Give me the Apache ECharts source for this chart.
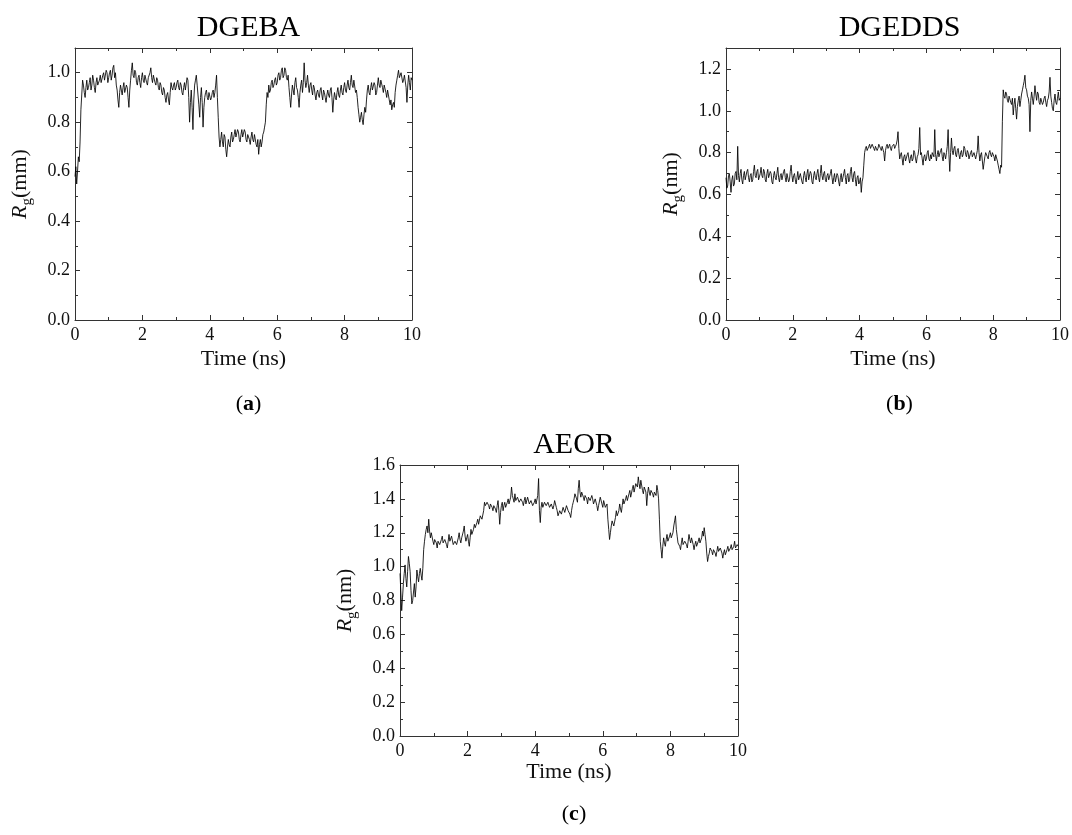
<!DOCTYPE html>
<html><head><meta charset="utf-8">
<script src="https://cdn.jsdelivr.net/npm/echarts@6/dist/echarts.min.js"></script>
<style>html,body{margin:0;padding:0;background:#fff}#c{width:1072px;height:835px}</style>
</head><body><div id="c"></div>
<script>
// sampling grid of the trajectories (ns)
const timeStep = 0.025;
const xTickLabels = ['0', '2', '4', '6', '8', '10'];
const titles = ['DGEBA', 'DGEDDS', 'AEOR'];
const panelLetters = ['a', 'b', 'c'];
const yUnits = ['mm', 'nm', 'nm'];
const yMaxes = [1.1, 1.3, 1.6];

const dgebaRg = [
0.58,0.62,0.55,0.60,0.66,0.64,0.72,0.85,0.91,0.97,0.95,0.92,0.90,0.94,0.97,0.93,0.94,0.96,0.98,0.93,
0.95,0.99,0.97,0.94,0.92,0.96,0.98,0.95,0.95,0.97,0.99,0.96,0.96,0.99,1.00,0.97,0.97,1.01,1.00,0.96,
0.98,1.00,1.01,0.97,0.99,1.02,1.03,0.98,1.00,0.95,0.93,0.89,0.86,0.92,0.95,0.93,0.91,0.94,0.96,0.92,
0.92,0.95,0.94,0.90,0.86,0.93,0.97,1.01,1.04,0.99,0.98,1.01,1.00,0.96,0.95,0.98,0.99,0.96,0.94,0.98,
1.00,0.97,0.96,0.99,0.99,0.96,0.95,0.98,0.98,1.00,1.02,0.98,0.96,0.99,0.99,0.96,0.95,0.98,0.97,0.94,
0.93,0.96,0.95,0.92,0.91,0.94,0.93,0.90,0.88,0.91,0.92,0.89,0.87,0.92,0.96,0.94,0.93,0.95,0.96,0.93,
0.94,0.96,0.97,0.94,0.93,0.96,0.95,0.92,0.91,0.94,0.96,0.93,0.93,0.98,0.97,0.90,0.80,0.88,0.93,0.86,
0.77,0.89,0.95,0.97,0.99,0.95,0.91,0.87,0.82,0.90,0.94,0.88,0.78,0.86,0.90,0.92,0.93,0.90,0.89,0.92,
0.92,0.89,0.90,0.92,0.93,0.90,0.92,0.95,0.99,0.90,0.82,0.74,0.70,0.73,0.76,0.72,0.70,0.75,0.74,0.69,
0.66,0.70,0.73,0.71,0.70,0.74,0.76,0.72,0.73,0.75,0.77,0.74,0.74,0.77,0.76,0.73,0.72,0.75,0.77,0.74,
0.74,0.77,0.76,0.73,0.72,0.75,0.75,0.73,0.71,0.74,0.76,0.73,0.72,0.75,0.75,0.71,0.70,0.73,0.67,0.71,
0.73,0.70,0.72,0.75,0.76,0.78,0.80,0.87,0.92,0.90,0.95,0.92,0.93,0.96,0.97,0.94,0.95,0.97,0.98,0.95,
0.96,0.99,1.00,0.97,0.98,1.01,1.02,0.98,0.99,1.02,1.01,0.98,0.97,0.99,0.94,0.90,0.86,0.91,0.95,0.93,
0.91,0.96,0.98,0.94,0.93,0.90,0.86,0.92,0.95,0.97,0.92,0.96,1.04,0.97,0.94,0.96,0.99,0.95,0.92,0.95,
0.96,0.93,0.91,0.95,0.94,0.91,0.89,0.92,0.93,0.91,0.90,0.93,0.94,0.91,0.89,0.93,0.92,0.90,0.88,0.91,
0.93,0.91,0.90,0.93,0.94,0.90,0.84,0.89,0.92,0.90,0.89,0.92,0.94,0.91,0.90,0.93,0.95,0.92,0.91,0.94,
0.96,0.93,0.92,0.95,0.97,0.94,0.93,0.96,0.99,0.95,0.94,0.97,0.97,0.92,0.93,0.90,0.86,0.83,0.80,0.82,
0.84,0.81,0.79,0.83,0.86,0.84,0.89,0.93,0.95,0.92,0.91,0.94,0.96,0.93,0.93,0.96,0.95,0.91,0.92,0.95,
0.98,0.95,0.94,0.97,0.97,0.94,0.92,0.95,0.95,0.92,0.90,0.93,0.93,0.89,0.87,0.89,0.85,0.87,0.88,0.86,
0.92,0.95,0.97,0.99,1.01,0.98,0.98,1.00,1.00,0.96,0.97,0.99,0.99,0.94,0.88,0.95,0.99,0.96,0.93,0.98,
0.97];

const dgeddsRg = [
0.68,0.63,0.64,0.69,0.70,0.66,0.61,0.67,0.69,0.64,0.65,0.70,0.71,0.67,0.83,0.69,0.66,0.70,0.72,0.67,
0.65,0.69,0.71,0.67,0.67,0.71,0.72,0.68,0.66,0.69,0.70,0.66,0.67,0.71,0.74,0.69,0.68,0.71,0.72,0.67,
0.67,0.70,0.73,0.69,0.68,0.72,0.71,0.67,0.66,0.70,0.72,0.68,0.68,0.71,0.70,0.66,0.65,0.69,0.71,0.68,
0.67,0.70,0.73,0.68,0.66,0.69,0.70,0.67,0.67,0.71,0.72,0.68,0.66,0.70,0.70,0.66,0.67,0.71,0.74,0.69,
0.66,0.69,0.70,0.67,0.65,0.68,0.71,0.67,0.67,0.70,0.70,0.66,0.65,0.69,0.71,0.68,0.66,0.70,0.72,0.67,
0.67,0.71,0.70,0.66,0.65,0.69,0.71,0.68,0.67,0.70,0.72,0.68,0.66,0.70,0.74,0.69,0.67,0.70,0.71,0.67,
0.66,0.69,0.70,0.67,0.67,0.70,0.72,0.68,0.65,0.68,0.70,0.66,0.66,0.70,0.69,0.66,0.64,0.68,0.70,0.66,
0.66,0.70,0.72,0.68,0.65,0.69,0.70,0.66,0.67,0.71,0.73,0.68,0.66,0.70,0.71,0.67,0.64,0.68,0.69,0.65,
0.66,0.68,0.61,0.66,0.68,0.74,0.80,0.82,0.83,0.81,0.81,0.83,0.84,0.82,0.82,0.84,0.84,0.82,0.81,0.83,
0.83,0.81,0.82,0.84,0.84,0.82,0.81,0.83,0.83,0.80,0.76,0.81,0.83,0.84,0.82,0.83,0.84,0.82,0.81,0.83,
0.83,0.84,0.82,0.83,0.84,0.86,0.90,0.82,0.77,0.79,0.80,0.77,0.74,0.78,0.79,0.76,0.76,0.79,0.80,0.77,
0.75,0.78,0.79,0.76,0.77,0.81,0.80,0.77,0.75,0.78,0.79,0.82,0.92,0.79,0.80,0.77,0.74,0.78,0.79,0.76,
0.77,0.80,0.81,0.77,0.76,0.79,0.77,0.80,0.80,0.78,0.91,0.79,0.76,0.79,0.81,0.78,0.78,0.81,0.82,0.78,
0.76,0.80,0.79,0.77,0.80,0.83,0.91,0.79,0.71,0.80,0.87,0.81,0.79,0.82,0.83,0.79,0.78,0.81,0.82,0.79,
0.77,0.80,0.81,0.78,0.79,0.83,0.82,0.79,0.78,0.81,0.80,0.77,0.77,0.80,0.81,0.78,0.78,0.80,0.80,0.77,
0.79,0.81,0.88,0.80,0.76,0.79,0.80,0.76,0.72,0.75,0.78,0.80,0.80,0.78,0.77,0.80,0.81,0.79,0.78,0.80,
0.80,0.78,0.76,0.79,0.79,0.76,0.74,0.72,0.70,0.74,0.73,0.95,1.10,1.07,1.06,1.09,1.08,1.05,1.04,1.07,
1.07,1.04,1.03,1.06,0.98,1.03,1.06,1.01,0.96,1.02,1.05,1.07,1.02,1.05,1.08,1.10,1.12,1.14,1.17,1.11,
1.10,1.07,1.06,1.03,0.90,1.05,1.09,1.06,1.03,1.07,1.12,1.08,1.05,1.09,1.08,1.04,1.03,1.06,1.06,1.03,
1.04,1.06,1.07,1.04,1.02,1.05,1.06,1.09,1.16,1.07,1.04,1.01,1.00,1.05,1.08,1.04,1.03,1.06,1.09,1.05,
1.06];

const aeorRg = [
0.96,0.85,0.74,0.82,0.90,0.96,1.01,0.93,0.88,0.97,1.06,1.02,0.97,0.86,0.78,0.80,0.85,0.90,0.82,0.88,
0.98,0.94,0.91,0.96,0.99,0.95,0.92,0.99,1.10,1.15,1.19,1.22,1.24,1.20,1.28,1.21,1.17,1.20,1.19,1.15,
1.13,1.16,1.17,1.14,1.11,1.15,1.16,1.13,1.12,1.16,1.18,1.14,1.13,1.16,1.17,1.13,1.11,1.15,1.19,1.15,
1.14,1.18,1.17,1.13,1.12,1.15,1.16,1.13,1.13,1.17,1.20,1.16,1.14,1.17,1.18,1.21,1.24,1.18,1.15,1.17,
1.19,1.15,1.12,1.17,1.22,1.19,1.18,1.22,1.25,1.23,1.22,1.26,1.28,1.25,1.26,1.30,1.31,1.28,1.29,1.33,
1.38,1.36,1.35,1.38,1.39,1.36,1.34,1.37,1.38,1.35,1.33,1.36,1.37,1.34,1.32,1.36,1.39,1.33,1.25,1.32,
1.36,1.38,1.33,1.36,1.38,1.35,1.35,1.38,1.40,1.37,1.36,1.41,1.47,1.42,1.40,1.38,1.43,1.39,1.38,1.41,
1.41,1.38,1.37,1.40,1.40,1.38,1.36,1.39,1.41,1.37,1.38,1.41,1.40,1.37,1.36,1.39,1.39,1.36,1.35,1.38,
1.40,1.37,1.36,1.42,1.52,1.33,1.26,1.35,1.38,1.35,1.34,1.38,1.39,1.36,1.35,1.38,1.38,1.35,1.34,1.37,
1.37,1.34,1.36,1.39,1.38,1.35,1.33,1.30,1.31,1.33,1.34,1.31,1.32,1.35,1.35,1.32,1.33,1.36,1.36,1.33,
1.34,1.31,1.29,1.33,1.36,1.38,1.40,1.43,1.44,1.40,1.38,1.46,1.51,1.44,1.41,1.44,1.45,1.41,1.39,1.42,
1.43,1.40,1.37,1.41,1.42,1.39,1.38,1.42,1.40,1.37,1.36,1.40,1.39,1.36,1.33,1.36,1.37,1.41,1.40,1.37,
1.35,1.39,1.38,1.35,1.34,1.37,1.28,1.22,1.16,1.20,1.24,1.27,1.28,1.24,1.25,1.29,1.33,1.30,1.29,1.33,
1.37,1.34,1.32,1.36,1.40,1.37,1.36,1.40,1.42,1.39,1.40,1.43,1.45,1.41,1.42,1.46,1.48,1.44,1.45,1.49,
1.50,1.47,1.53,1.49,1.46,1.51,1.50,1.45,1.43,1.47,1.48,1.44,1.36,1.43,1.47,1.44,1.42,1.45,1.46,1.43,
1.41,1.44,1.45,1.42,1.48,1.45,1.40,1.28,1.15,1.10,1.05,1.12,1.17,1.14,1.12,1.16,1.19,1.15,1.15,1.18,
1.20,1.17,1.16,1.20,1.24,1.27,1.30,1.22,1.18,1.14,1.15,1.12,1.10,1.14,1.17,1.13,1.12,1.15,1.16,1.13,
1.11,1.15,1.19,1.16,1.14,1.17,1.17,1.13,1.10,1.13,1.15,1.12,1.12,1.15,1.17,1.14,1.13,1.17,1.21,1.18,
1.23,1.19,1.15,1.08,1.03,1.06,1.08,1.11,1.12,1.09,1.07,1.10,1.11,1.08,1.06,1.09,1.12,1.09,1.08,1.11,
1.11,1.08,1.05,1.08,1.10,1.07,1.07,1.10,1.12,1.09,1.08,1.11,1.13,1.10,1.09,1.12,1.15,1.11,1.10,1.13,
1.12];

const seriesValues = [dgebaRg, dgeddsRg, aeorRg];

const FONT = "'Liberation Serif', 'DejaVu Serif', serif";
const AX = '#333';
const grids = [
  {left: 75, top: 48, width: 337, height: 272},
  {left: 726, top: 48, width: 337, height: 272},
  {left: 400, top: 465, width: 338, height: 271}
];
const xNameGaps = [28, 28, 25];
const panelLabelOffsets = [68, 68, 62];

const xAxes = [], yAxes = [], series = [], titleArr = [];
grids.forEach((g, k) => {
  const base = {gridIndex: k, type: 'value', min: 0, max: 10, interval: 2,
    axisLine: {show: true, onZero: false, lineStyle: {color: AX, width: 1}},
    splitLine: {show: false},
    axisTick: {show: true, inside: true, length: 5, lineStyle: {color: AX}},
    minorTick: {show: true, splitNumber: 2, length: 3, lineStyle: {color: AX}}};
  xAxes.push(Object.assign({}, base, {position: 'bottom',
    axisLabel: {show: true, margin: 6, fontFamily: FONT, fontSize: 18, color: '#111',
      formatter: v => xTickLabels[Math.round(v / 2)] ?? ''},
    name: 'Time (ns)', nameLocation: 'middle', nameGap: xNameGaps[k],
    nameTextStyle: {fontFamily: FONT, fontSize: 22, color: '#111'}}));
  xAxes.push(Object.assign({}, base, {position: 'top', axisLabel: {show: false}}));

  const ymax = yMaxes[k];
  const yMajor = {gridIndex: k, type: 'value', min: 0, max: ymax, interval: 0.2,
    axisLine: {show: true, onZero: false, lineStyle: {color: AX, width: 1}},
    splitLine: {show: false},
    axisTick: {show: true, inside: true, length: 5, lineStyle: {color: AX}}};
  const yMinor = {gridIndex: k, type: 'value', min: 0, max: ymax, interval: 0.1,
    axisLine: {show: false, onZero: false}, splitLine: {show: false}, axisLabel: {show: false},
    axisTick: {show: true, inside: true, length: 3, lineStyle: {color: AX}}};
  yAxes.push(Object.assign({}, yMajor, {position: 'left',
    axisLabel: {show: true, margin: 5, fontFamily: FONT, fontSize: 18, color: '#111',
      formatter: v => (Math.abs(v * 5 - Math.round(v * 5)) < 1e-6 ? v.toFixed(1) : '')},
    name: '{it|R}{sub|g}{n|(' + yUnits[k] + ')}', nameLocation: 'middle', nameGap: 40, nameRotate: 90,
    nameTextStyle: {fontFamily: FONT, fontSize: 22, color: '#111',
      rich: {
        it: {fontFamily: FONT, fontSize: 22, fontStyle: 'italic', color: '#111', verticalAlign: 'middle', lineHeight: 30},
        sub: {fontFamily: FONT, fontSize: 15, color: '#111', verticalAlign: 'bottom', lineHeight: 30},
        n: {fontFamily: FONT, fontSize: 22, color: '#111', verticalAlign: 'middle', lineHeight: 30}
      }}}));
  yAxes.push(Object.assign({}, yMinor, {position: 'left'}));
  yAxes.push(Object.assign({}, yMajor, {position: 'right', axisLabel: {show: false}}));
  yAxes.push(Object.assign({}, yMinor, {position: 'right'}));

  const vals = seriesValues[k];
  series.push({type: 'line', xAxisIndex: 2 * k, yAxisIndex: 4 * k, showSymbol: false, symbol: 'none',
    lineStyle: {color: '#000', width: 0.85}, data: vals.map((v, i) => [+(i * timeStep).toFixed(3), v])});

  const cx = g.left + g.width / 2;
  titleArr.push({text: titles[k], left: cx, textAlign: 'center', top: g.top - 40,
    textStyle: {fontFamily: FONT, fontSize: 30, fontWeight: 'normal', color: '#000'}});
  titleArr.push({text: '{n|(}{b|' + panelLetters[k] + '}{n|)}', left: cx, textAlign: 'center',
    top: g.top + g.height + panelLabelOffsets[k],
    textStyle: {fontWeight: 'normal', rich: {n: {fontFamily: FONT, fontSize: 22, fontWeight: 'normal', color: '#000'},
      b: {fontFamily: FONT, fontSize: 22, fontWeight: 'bold', color: '#000'}}}});
});

const chart = echarts.init(document.getElementById('c'), null, {renderer: 'canvas'});
chart.setOption({
  animation: false,
  backgroundColor: '#fff',
  title: titleArr,
  grid: grids,
  xAxis: xAxes,
  yAxis: yAxes,
  series: series
});
</script></body></html>
